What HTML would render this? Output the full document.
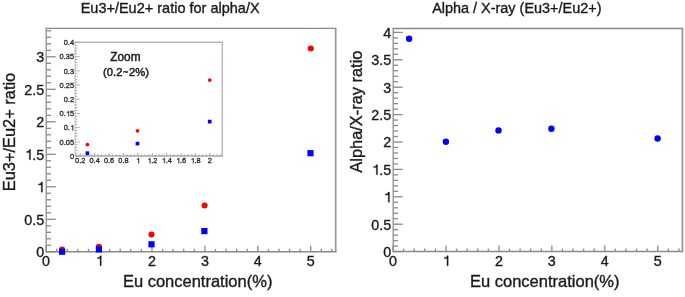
<!DOCTYPE html>
<html><head><meta charset="utf-8"><style>
html,body{margin:0;padding:0;background:#fff;}
svg{display:block;will-change:transform;}
text{font-family:"Liberation Sans", sans-serif;}
</style></head><body>
<svg width="685" height="297" viewBox="0 0 685 297">
<rect width="685" height="297" fill="#fff"/>
<line x1="46.2" y1="27.8" x2="46.2" y2="252.55" stroke="#858585" stroke-width="1.2"/>
<line x1="45.6" y1="28.4" x2="336.5" y2="28.4" stroke="#8a8a8a" stroke-width="1.3"/>
<line x1="335.7" y1="28.4" x2="335.7" y2="251.85" stroke="#959595" stroke-width="1.7"/>
<line x1="46.2" y1="251.85" x2="336.5" y2="251.85" stroke="#8a8a8a" stroke-width="1.5"/>
<line x1="46.2" y1="251.8" x2="55.7" y2="251.8" stroke="#8a8a8a" stroke-width="1.3"/>
<text x="44.2" y="257.2" font-size="14.3" text-anchor="end" fill="#1a1a1a" stroke="#1a1a1a" stroke-width="0.35" >0</text>
<line x1="46.2" y1="245.3" x2="51" y2="245.3" stroke="#8a8a8a" stroke-width="1.3"/>
<line x1="46.2" y1="238.8" x2="51" y2="238.8" stroke="#8a8a8a" stroke-width="1.3"/>
<line x1="46.2" y1="232.3" x2="51" y2="232.3" stroke="#8a8a8a" stroke-width="1.3"/>
<line x1="46.2" y1="225.8" x2="51" y2="225.8" stroke="#8a8a8a" stroke-width="1.3"/>
<line x1="46.2" y1="219.3" x2="55.7" y2="219.3" stroke="#8a8a8a" stroke-width="1.3"/>
<text x="44.2" y="224.7" font-size="14.3" text-anchor="end" fill="#1a1a1a" stroke="#1a1a1a" stroke-width="0.35" >0.5</text>
<line x1="46.2" y1="212.8" x2="51" y2="212.8" stroke="#8a8a8a" stroke-width="1.3"/>
<line x1="46.2" y1="206.3" x2="51" y2="206.3" stroke="#8a8a8a" stroke-width="1.3"/>
<line x1="46.2" y1="199.8" x2="51" y2="199.8" stroke="#8a8a8a" stroke-width="1.3"/>
<line x1="46.2" y1="193.3" x2="51" y2="193.3" stroke="#8a8a8a" stroke-width="1.3"/>
<line x1="46.2" y1="186.8" x2="55.7" y2="186.8" stroke="#8a8a8a" stroke-width="1.3"/>
<path transform="translate(36.25 192.2) scale(14.3)" d="M .438 0 L .348 0 L .348 -.505 L .155 -.505 L .155 -.572 C .285 -.58 .33 -.62 .35 -.709 L .438 -.709 Z" fill="#1a1a1a" stroke="#1a1a1a" stroke-width="0.02"/>
<line x1="46.2" y1="180.3" x2="51" y2="180.3" stroke="#8a8a8a" stroke-width="1.3"/>
<line x1="46.2" y1="173.8" x2="51" y2="173.8" stroke="#8a8a8a" stroke-width="1.3"/>
<line x1="46.2" y1="167.3" x2="51" y2="167.3" stroke="#8a8a8a" stroke-width="1.3"/>
<line x1="46.2" y1="160.8" x2="51" y2="160.8" stroke="#8a8a8a" stroke-width="1.3"/>
<line x1="46.2" y1="154.3" x2="55.7" y2="154.3" stroke="#8a8a8a" stroke-width="1.3"/>
<path transform="translate(24.32 159.7) scale(14.3)" d="M .438 0 L .348 0 L .348 -.505 L .155 -.505 L .155 -.572 C .285 -.58 .33 -.62 .35 -.709 L .438 -.709 Z" fill="#1a1a1a" stroke="#1a1a1a" stroke-width="0.02"/>
<text x="32.27" y="159.7" font-size="14.3" text-anchor="start" fill="#1a1a1a" stroke="#1a1a1a" stroke-width="0.35" >.5</text>
<line x1="46.2" y1="147.8" x2="51" y2="147.8" stroke="#8a8a8a" stroke-width="1.3"/>
<line x1="46.2" y1="141.3" x2="51" y2="141.3" stroke="#8a8a8a" stroke-width="1.3"/>
<line x1="46.2" y1="134.8" x2="51" y2="134.8" stroke="#8a8a8a" stroke-width="1.3"/>
<line x1="46.2" y1="128.3" x2="51" y2="128.3" stroke="#8a8a8a" stroke-width="1.3"/>
<line x1="46.2" y1="121.8" x2="55.7" y2="121.8" stroke="#8a8a8a" stroke-width="1.3"/>
<text x="44.2" y="127.2" font-size="14.3" text-anchor="end" fill="#1a1a1a" stroke="#1a1a1a" stroke-width="0.35" >2</text>
<line x1="46.2" y1="115.3" x2="51" y2="115.3" stroke="#8a8a8a" stroke-width="1.3"/>
<line x1="46.2" y1="108.8" x2="51" y2="108.8" stroke="#8a8a8a" stroke-width="1.3"/>
<line x1="46.2" y1="102.3" x2="51" y2="102.3" stroke="#8a8a8a" stroke-width="1.3"/>
<line x1="46.2" y1="95.8" x2="51" y2="95.8" stroke="#8a8a8a" stroke-width="1.3"/>
<line x1="46.2" y1="89.3" x2="55.7" y2="89.3" stroke="#8a8a8a" stroke-width="1.3"/>
<text x="44.2" y="94.7" font-size="14.3" text-anchor="end" fill="#1a1a1a" stroke="#1a1a1a" stroke-width="0.35" >2.5</text>
<line x1="46.2" y1="82.8" x2="51" y2="82.8" stroke="#8a8a8a" stroke-width="1.3"/>
<line x1="46.2" y1="76.3" x2="51" y2="76.3" stroke="#8a8a8a" stroke-width="1.3"/>
<line x1="46.2" y1="69.8" x2="51" y2="69.8" stroke="#8a8a8a" stroke-width="1.3"/>
<line x1="46.2" y1="63.3" x2="51" y2="63.3" stroke="#8a8a8a" stroke-width="1.3"/>
<line x1="46.2" y1="56.8" x2="55.7" y2="56.8" stroke="#8a8a8a" stroke-width="1.3"/>
<text x="44.2" y="62.2" font-size="14.3" text-anchor="end" fill="#1a1a1a" stroke="#1a1a1a" stroke-width="0.35" >3</text>
<line x1="46.2" y1="50.3" x2="51" y2="50.3" stroke="#8a8a8a" stroke-width="1.3"/>
<line x1="46.2" y1="43.8" x2="51" y2="43.8" stroke="#8a8a8a" stroke-width="1.3"/>
<line x1="46.2" y1="37.3" x2="51" y2="37.3" stroke="#8a8a8a" stroke-width="1.3"/>
<line x1="46.2" y1="30.8" x2="51" y2="30.8" stroke="#8a8a8a" stroke-width="1.3"/>
<line x1="46.1" y1="251.85" x2="46.1" y2="245.85" stroke="#8a8a8a" stroke-width="1.3"/>
<text x="46.1" y="265.8" font-size="14.3" text-anchor="middle" fill="#1a1a1a" stroke="#1a1a1a" stroke-width="0.35" >0</text>
<line x1="56.69" y1="251.85" x2="56.69" y2="248.85" stroke="#8a8a8a" stroke-width="1.3"/>
<line x1="67.27" y1="251.85" x2="67.27" y2="248.85" stroke="#8a8a8a" stroke-width="1.3"/>
<line x1="77.86" y1="251.85" x2="77.86" y2="248.85" stroke="#8a8a8a" stroke-width="1.3"/>
<line x1="88.44" y1="251.85" x2="88.44" y2="248.85" stroke="#8a8a8a" stroke-width="1.3"/>
<line x1="99.03" y1="251.85" x2="99.03" y2="245.85" stroke="#8a8a8a" stroke-width="1.3"/>
<path transform="translate(95.05 265.8) scale(14.3)" d="M .438 0 L .348 0 L .348 -.505 L .155 -.505 L .155 -.572 C .285 -.58 .33 -.62 .35 -.709 L .438 -.709 Z" fill="#1a1a1a" stroke="#1a1a1a" stroke-width="0.02"/>
<line x1="109.62" y1="251.85" x2="109.62" y2="248.85" stroke="#8a8a8a" stroke-width="1.3"/>
<line x1="120.2" y1="251.85" x2="120.2" y2="248.85" stroke="#8a8a8a" stroke-width="1.3"/>
<line x1="130.79" y1="251.85" x2="130.79" y2="248.85" stroke="#8a8a8a" stroke-width="1.3"/>
<line x1="141.37" y1="251.85" x2="141.37" y2="248.85" stroke="#8a8a8a" stroke-width="1.3"/>
<line x1="151.96" y1="251.85" x2="151.96" y2="245.85" stroke="#8a8a8a" stroke-width="1.3"/>
<text x="151.96" y="265.8" font-size="14.3" text-anchor="middle" fill="#1a1a1a" stroke="#1a1a1a" stroke-width="0.35" >2</text>
<line x1="162.55" y1="251.85" x2="162.55" y2="248.85" stroke="#8a8a8a" stroke-width="1.3"/>
<line x1="173.13" y1="251.85" x2="173.13" y2="248.85" stroke="#8a8a8a" stroke-width="1.3"/>
<line x1="183.72" y1="251.85" x2="183.72" y2="248.85" stroke="#8a8a8a" stroke-width="1.3"/>
<line x1="194.3" y1="251.85" x2="194.3" y2="248.85" stroke="#8a8a8a" stroke-width="1.3"/>
<line x1="204.89" y1="251.85" x2="204.89" y2="245.85" stroke="#8a8a8a" stroke-width="1.3"/>
<text x="204.89" y="265.8" font-size="14.3" text-anchor="middle" fill="#1a1a1a" stroke="#1a1a1a" stroke-width="0.35" >3</text>
<line x1="215.48" y1="251.85" x2="215.48" y2="248.85" stroke="#8a8a8a" stroke-width="1.3"/>
<line x1="226.06" y1="251.85" x2="226.06" y2="248.85" stroke="#8a8a8a" stroke-width="1.3"/>
<line x1="236.65" y1="251.85" x2="236.65" y2="248.85" stroke="#8a8a8a" stroke-width="1.3"/>
<line x1="247.23" y1="251.85" x2="247.23" y2="248.85" stroke="#8a8a8a" stroke-width="1.3"/>
<line x1="257.82" y1="251.85" x2="257.82" y2="245.85" stroke="#8a8a8a" stroke-width="1.3"/>
<text x="257.82" y="265.8" font-size="14.3" text-anchor="middle" fill="#1a1a1a" stroke="#1a1a1a" stroke-width="0.35" >4</text>
<line x1="268.41" y1="251.85" x2="268.41" y2="248.85" stroke="#8a8a8a" stroke-width="1.3"/>
<line x1="278.99" y1="251.85" x2="278.99" y2="248.85" stroke="#8a8a8a" stroke-width="1.3"/>
<line x1="289.58" y1="251.85" x2="289.58" y2="248.85" stroke="#8a8a8a" stroke-width="1.3"/>
<line x1="300.16" y1="251.85" x2="300.16" y2="248.85" stroke="#8a8a8a" stroke-width="1.3"/>
<line x1="310.75" y1="251.85" x2="310.75" y2="245.85" stroke="#8a8a8a" stroke-width="1.3"/>
<text x="310.75" y="265.8" font-size="14.3" text-anchor="middle" fill="#1a1a1a" stroke="#1a1a1a" stroke-width="0.35" >5</text>
<line x1="321.34" y1="251.85" x2="321.34" y2="248.85" stroke="#8a8a8a" stroke-width="1.3"/>
<line x1="331.92" y1="251.85" x2="331.92" y2="248.85" stroke="#8a8a8a" stroke-width="1.3"/>
<text x="272.4" y="286.8" font-size="16.5" text-anchor="end" fill="#1a1a1a" stroke="#1a1a1a" stroke-width="0.35" >Eu concentration(%)</text>
<text x="15.5" y="72.8" font-size="16.4" text-anchor="end" fill="#1a1a1a" stroke="#1a1a1a" stroke-width="0.35" transform="rotate(-90 15.5 72.8)">Eu3+/Eu2+ ratio</text>
<text x="170.15" y="13.2" font-size="14.5" text-anchor="middle" fill="#1a1a1a" stroke="#1a1a1a" stroke-width="0.35" >Eu3+/Eu2+ ratio for alpha/X</text>
<rect x="74.9" y="42.3" width="147.4" height="113.7" fill="#fff" stroke="none" stroke-width="0"/>
<line x1="74.2" y1="42.3" x2="223.05" y2="42.3" stroke="#b8b8b8" stroke-width="1.5"/>
<line x1="222.3" y1="42.3" x2="222.3" y2="156" stroke="#b8b8b8" stroke-width="1.5"/>
<line x1="75.1" y1="42.3" x2="75.1" y2="156" stroke="#d2d2d2" stroke-width="1.4"/>
<line x1="74.9" y1="156" x2="223.05" y2="156" stroke="#a8a8a8" stroke-width="1.4"/>
<line x1="74.9" y1="156" x2="79.9" y2="156" stroke="#a6a6a6" stroke-width="0.85"/>
<text x="74" y="158.8" font-size="7.4" text-anchor="end" fill="#2a2a2a" stroke="#2a2a2a" stroke-width="0.32" >0</text>
<line x1="74.9" y1="153.16" x2="77.4" y2="153.16" stroke="#a6a6a6" stroke-width="0.85"/>
<line x1="74.9" y1="150.32" x2="77.4" y2="150.32" stroke="#a6a6a6" stroke-width="0.85"/>
<line x1="74.9" y1="147.48" x2="77.4" y2="147.48" stroke="#a6a6a6" stroke-width="0.85"/>
<line x1="74.9" y1="144.64" x2="77.4" y2="144.64" stroke="#a6a6a6" stroke-width="0.85"/>
<line x1="74.9" y1="141.8" x2="79.9" y2="141.8" stroke="#a6a6a6" stroke-width="0.85"/>
<text x="74" y="144.6" font-size="7.4" text-anchor="end" fill="#2a2a2a" stroke="#2a2a2a" stroke-width="0.32" >0.05</text>
<line x1="74.9" y1="138.96" x2="77.4" y2="138.96" stroke="#a6a6a6" stroke-width="0.85"/>
<line x1="74.9" y1="136.12" x2="77.4" y2="136.12" stroke="#a6a6a6" stroke-width="0.85"/>
<line x1="74.9" y1="133.28" x2="77.4" y2="133.28" stroke="#a6a6a6" stroke-width="0.85"/>
<line x1="74.9" y1="130.44" x2="77.4" y2="130.44" stroke="#a6a6a6" stroke-width="0.85"/>
<line x1="74.9" y1="127.6" x2="79.9" y2="127.6" stroke="#a6a6a6" stroke-width="0.85"/>
<text x="63.71" y="130.4" font-size="7.4" text-anchor="start" fill="#2a2a2a" stroke="#2a2a2a" stroke-width="0.32" >0.</text>
<path transform="translate(69.89 130.4) scale(7.4)" d="M .438 0 L .348 0 L .348 -.505 L .155 -.505 L .155 -.572 C .285 -.58 .33 -.62 .35 -.709 L .438 -.709 Z" fill="#2a2a2a" stroke="#2a2a2a" stroke-width="0.04"/>
<line x1="74.9" y1="124.76" x2="77.4" y2="124.76" stroke="#a6a6a6" stroke-width="0.85"/>
<line x1="74.9" y1="121.92" x2="77.4" y2="121.92" stroke="#a6a6a6" stroke-width="0.85"/>
<line x1="74.9" y1="119.08" x2="77.4" y2="119.08" stroke="#a6a6a6" stroke-width="0.85"/>
<line x1="74.9" y1="116.24" x2="77.4" y2="116.24" stroke="#a6a6a6" stroke-width="0.85"/>
<line x1="74.9" y1="113.4" x2="79.9" y2="113.4" stroke="#a6a6a6" stroke-width="0.85"/>
<text x="59.6" y="116.2" font-size="7.4" text-anchor="start" fill="#2a2a2a" stroke="#2a2a2a" stroke-width="0.32" >0.</text>
<path transform="translate(65.77 116.2) scale(7.4)" d="M .438 0 L .348 0 L .348 -.505 L .155 -.505 L .155 -.572 C .285 -.58 .33 -.62 .35 -.709 L .438 -.709 Z" fill="#2a2a2a" stroke="#2a2a2a" stroke-width="0.04"/>
<text x="69.89" y="116.2" font-size="7.4" text-anchor="start" fill="#2a2a2a" stroke="#2a2a2a" stroke-width="0.32" >5</text>
<line x1="74.9" y1="110.56" x2="77.4" y2="110.56" stroke="#a6a6a6" stroke-width="0.85"/>
<line x1="74.9" y1="107.72" x2="77.4" y2="107.72" stroke="#a6a6a6" stroke-width="0.85"/>
<line x1="74.9" y1="104.88" x2="77.4" y2="104.88" stroke="#a6a6a6" stroke-width="0.85"/>
<line x1="74.9" y1="102.04" x2="77.4" y2="102.04" stroke="#a6a6a6" stroke-width="0.85"/>
<line x1="74.9" y1="99.2" x2="79.9" y2="99.2" stroke="#a6a6a6" stroke-width="0.85"/>
<text x="74" y="102" font-size="7.4" text-anchor="end" fill="#2a2a2a" stroke="#2a2a2a" stroke-width="0.32" >0.2</text>
<line x1="74.9" y1="96.36" x2="77.4" y2="96.36" stroke="#a6a6a6" stroke-width="0.85"/>
<line x1="74.9" y1="93.52" x2="77.4" y2="93.52" stroke="#a6a6a6" stroke-width="0.85"/>
<line x1="74.9" y1="90.68" x2="77.4" y2="90.68" stroke="#a6a6a6" stroke-width="0.85"/>
<line x1="74.9" y1="87.84" x2="77.4" y2="87.84" stroke="#a6a6a6" stroke-width="0.85"/>
<line x1="74.9" y1="85" x2="79.9" y2="85" stroke="#a6a6a6" stroke-width="0.85"/>
<text x="74" y="87.8" font-size="7.4" text-anchor="end" fill="#2a2a2a" stroke="#2a2a2a" stroke-width="0.32" >0.25</text>
<line x1="74.9" y1="82.16" x2="77.4" y2="82.16" stroke="#a6a6a6" stroke-width="0.85"/>
<line x1="74.9" y1="79.32" x2="77.4" y2="79.32" stroke="#a6a6a6" stroke-width="0.85"/>
<line x1="74.9" y1="76.48" x2="77.4" y2="76.48" stroke="#a6a6a6" stroke-width="0.85"/>
<line x1="74.9" y1="73.64" x2="77.4" y2="73.64" stroke="#a6a6a6" stroke-width="0.85"/>
<line x1="74.9" y1="70.8" x2="79.9" y2="70.8" stroke="#a6a6a6" stroke-width="0.85"/>
<text x="74" y="73.6" font-size="7.4" text-anchor="end" fill="#2a2a2a" stroke="#2a2a2a" stroke-width="0.32" >0.3</text>
<line x1="74.9" y1="67.96" x2="77.4" y2="67.96" stroke="#a6a6a6" stroke-width="0.85"/>
<line x1="74.9" y1="65.12" x2="77.4" y2="65.12" stroke="#a6a6a6" stroke-width="0.85"/>
<line x1="74.9" y1="62.28" x2="77.4" y2="62.28" stroke="#a6a6a6" stroke-width="0.85"/>
<line x1="74.9" y1="59.44" x2="77.4" y2="59.44" stroke="#a6a6a6" stroke-width="0.85"/>
<line x1="74.9" y1="56.6" x2="79.9" y2="56.6" stroke="#a6a6a6" stroke-width="0.85"/>
<text x="74" y="59.4" font-size="7.4" text-anchor="end" fill="#2a2a2a" stroke="#2a2a2a" stroke-width="0.32" >0.35</text>
<line x1="74.9" y1="53.76" x2="77.4" y2="53.76" stroke="#a6a6a6" stroke-width="0.85"/>
<line x1="74.9" y1="50.92" x2="77.4" y2="50.92" stroke="#a6a6a6" stroke-width="0.85"/>
<line x1="74.9" y1="48.08" x2="77.4" y2="48.08" stroke="#a6a6a6" stroke-width="0.85"/>
<line x1="74.9" y1="45.24" x2="77.4" y2="45.24" stroke="#a6a6a6" stroke-width="0.85"/>
<line x1="74.9" y1="42.4" x2="79.9" y2="42.4" stroke="#a6a6a6" stroke-width="0.85"/>
<text x="74" y="45.2" font-size="7.4" text-anchor="end" fill="#2a2a2a" stroke="#2a2a2a" stroke-width="0.32" >0.4</text>
<line x1="76.6" y1="156" x2="76.6" y2="154.4" stroke="#999" stroke-width="0.85"/>
<line x1="80.2" y1="156" x2="80.2" y2="153" stroke="#999" stroke-width="0.85"/>
<text x="80.2" y="163.2" font-size="7.4" text-anchor="middle" fill="#2a2a2a" stroke="#2a2a2a" stroke-width="0.32" >0.2</text>
<line x1="83.8" y1="156" x2="83.8" y2="154.4" stroke="#999" stroke-width="0.85"/>
<line x1="87.41" y1="156" x2="87.41" y2="154.4" stroke="#999" stroke-width="0.85"/>
<line x1="91.01" y1="156" x2="91.01" y2="154.4" stroke="#999" stroke-width="0.85"/>
<line x1="94.61" y1="156" x2="94.61" y2="153" stroke="#999" stroke-width="0.85"/>
<text x="94.61" y="163.2" font-size="7.4" text-anchor="middle" fill="#2a2a2a" stroke="#2a2a2a" stroke-width="0.32" >0.4</text>
<line x1="98.21" y1="156" x2="98.21" y2="154.4" stroke="#999" stroke-width="0.85"/>
<line x1="101.81" y1="156" x2="101.81" y2="154.4" stroke="#999" stroke-width="0.85"/>
<line x1="105.42" y1="156" x2="105.42" y2="154.4" stroke="#999" stroke-width="0.85"/>
<line x1="109.02" y1="156" x2="109.02" y2="153" stroke="#999" stroke-width="0.85"/>
<text x="109.02" y="163.2" font-size="7.4" text-anchor="middle" fill="#2a2a2a" stroke="#2a2a2a" stroke-width="0.32" >0.6</text>
<line x1="112.62" y1="156" x2="112.62" y2="154.4" stroke="#999" stroke-width="0.85"/>
<line x1="116.22" y1="156" x2="116.22" y2="154.4" stroke="#999" stroke-width="0.85"/>
<line x1="119.83" y1="156" x2="119.83" y2="154.4" stroke="#999" stroke-width="0.85"/>
<line x1="123.43" y1="156" x2="123.43" y2="153" stroke="#999" stroke-width="0.85"/>
<text x="123.43" y="163.2" font-size="7.4" text-anchor="middle" fill="#2a2a2a" stroke="#2a2a2a" stroke-width="0.32" >0.8</text>
<line x1="127.03" y1="156" x2="127.03" y2="154.4" stroke="#999" stroke-width="0.85"/>
<line x1="130.63" y1="156" x2="130.63" y2="154.4" stroke="#999" stroke-width="0.85"/>
<line x1="134.24" y1="156" x2="134.24" y2="154.4" stroke="#999" stroke-width="0.85"/>
<line x1="137.84" y1="156" x2="137.84" y2="153" stroke="#999" stroke-width="0.85"/>
<path transform="translate(135.78 163.2) scale(7.4)" d="M .438 0 L .348 0 L .348 -.505 L .155 -.505 L .155 -.572 C .285 -.58 .33 -.62 .35 -.709 L .438 -.709 Z" fill="#2a2a2a" stroke="#2a2a2a" stroke-width="0.04"/>
<line x1="141.44" y1="156" x2="141.44" y2="154.4" stroke="#999" stroke-width="0.85"/>
<line x1="145.05" y1="156" x2="145.05" y2="154.4" stroke="#999" stroke-width="0.85"/>
<line x1="148.65" y1="156" x2="148.65" y2="154.4" stroke="#999" stroke-width="0.85"/>
<line x1="152.25" y1="156" x2="152.25" y2="153" stroke="#999" stroke-width="0.85"/>
<path transform="translate(147.11 163.2) scale(7.4)" d="M .438 0 L .348 0 L .348 -.505 L .155 -.505 L .155 -.572 C .285 -.58 .33 -.62 .35 -.709 L .438 -.709 Z" fill="#2a2a2a" stroke="#2a2a2a" stroke-width="0.04"/>
<text x="151.22" y="163.2" font-size="7.4" text-anchor="start" fill="#2a2a2a" stroke="#2a2a2a" stroke-width="0.32" >.2</text>
<line x1="155.85" y1="156" x2="155.85" y2="154.4" stroke="#999" stroke-width="0.85"/>
<line x1="159.46" y1="156" x2="159.46" y2="154.4" stroke="#999" stroke-width="0.85"/>
<line x1="163.06" y1="156" x2="163.06" y2="154.4" stroke="#999" stroke-width="0.85"/>
<line x1="166.66" y1="156" x2="166.66" y2="153" stroke="#999" stroke-width="0.85"/>
<path transform="translate(161.52 163.2) scale(7.4)" d="M .438 0 L .348 0 L .348 -.505 L .155 -.505 L .155 -.572 C .285 -.58 .33 -.62 .35 -.709 L .438 -.709 Z" fill="#2a2a2a" stroke="#2a2a2a" stroke-width="0.04"/>
<text x="165.63" y="163.2" font-size="7.4" text-anchor="start" fill="#2a2a2a" stroke="#2a2a2a" stroke-width="0.32" >.4</text>
<line x1="170.26" y1="156" x2="170.26" y2="154.4" stroke="#999" stroke-width="0.85"/>
<line x1="173.87" y1="156" x2="173.87" y2="154.4" stroke="#999" stroke-width="0.85"/>
<line x1="177.47" y1="156" x2="177.47" y2="154.4" stroke="#999" stroke-width="0.85"/>
<line x1="181.07" y1="156" x2="181.07" y2="153" stroke="#999" stroke-width="0.85"/>
<path transform="translate(175.93 163.2) scale(7.4)" d="M .438 0 L .348 0 L .348 -.505 L .155 -.505 L .155 -.572 C .285 -.58 .33 -.62 .35 -.709 L .438 -.709 Z" fill="#2a2a2a" stroke="#2a2a2a" stroke-width="0.04"/>
<text x="180.04" y="163.2" font-size="7.4" text-anchor="start" fill="#2a2a2a" stroke="#2a2a2a" stroke-width="0.32" >.6</text>
<line x1="184.67" y1="156" x2="184.67" y2="154.4" stroke="#999" stroke-width="0.85"/>
<line x1="188.27" y1="156" x2="188.27" y2="154.4" stroke="#999" stroke-width="0.85"/>
<line x1="191.88" y1="156" x2="191.88" y2="154.4" stroke="#999" stroke-width="0.85"/>
<line x1="195.48" y1="156" x2="195.48" y2="153" stroke="#999" stroke-width="0.85"/>
<path transform="translate(190.34 163.2) scale(7.4)" d="M .438 0 L .348 0 L .348 -.505 L .155 -.505 L .155 -.572 C .285 -.58 .33 -.62 .35 -.709 L .438 -.709 Z" fill="#2a2a2a" stroke="#2a2a2a" stroke-width="0.04"/>
<text x="194.45" y="163.2" font-size="7.4" text-anchor="start" fill="#2a2a2a" stroke="#2a2a2a" stroke-width="0.32" >.8</text>
<line x1="199.08" y1="156" x2="199.08" y2="154.4" stroke="#999" stroke-width="0.85"/>
<line x1="202.69" y1="156" x2="202.69" y2="154.4" stroke="#999" stroke-width="0.85"/>
<line x1="206.29" y1="156" x2="206.29" y2="154.4" stroke="#999" stroke-width="0.85"/>
<line x1="209.89" y1="156" x2="209.89" y2="153" stroke="#999" stroke-width="0.85"/>
<text x="209.89" y="163.2" font-size="7.4" text-anchor="middle" fill="#2a2a2a" stroke="#2a2a2a" stroke-width="0.32" >2</text>
<line x1="213.49" y1="156" x2="213.49" y2="154.4" stroke="#999" stroke-width="0.85"/>
<line x1="217.1" y1="156" x2="217.1" y2="154.4" stroke="#999" stroke-width="0.85"/>
<line x1="220.7" y1="156" x2="220.7" y2="154.4" stroke="#999" stroke-width="0.85"/>
<text x="125.4" y="61.3" font-size="11.85" text-anchor="middle" fill="#1a1a1a" stroke="#1a1a1a" stroke-width="0.45" >Zoom</text>
<text x="126" y="76.3" font-size="11.2" text-anchor="middle" fill="#1a1a1a" stroke="#1a1a1a" stroke-width="0.45" >(0.2<tspan font-size="9" dx="0.65" dy="-1.2">~</tspan><tspan dx="0.65" dy="1.2">2%)</tspan></text>
<circle cx="87.4" cy="144.6" r="1.85" fill="#ff0000"/>
<circle cx="137.5" cy="130.8" r="1.85" fill="#ff0000"/>
<circle cx="209.8" cy="80.1" r="1.85" fill="#ff0000"/>
<rect x="85.55" y="151.35" width="3.7" height="3.7" fill="#0000ff"/>
<rect x="135.65" y="141.75" width="3.7" height="3.7" fill="#0000ff"/>
<rect x="207.85" y="119.75" width="3.7" height="3.7" fill="#0000ff"/>
<circle cx="62.1" cy="249.5" r="3.05" fill="#ff0000"/>
<circle cx="98.9" cy="246.7" r="3.05" fill="#ff0000"/>
<circle cx="151.5" cy="234.5" r="3.05" fill="#ff0000"/>
<circle cx="204.6" cy="205.5" r="3.05" fill="#ff0000"/>
<circle cx="310.8" cy="48.5" r="3.05" fill="#ff0000"/>
<rect x="59" y="248.6" width="6.2" height="6.2" fill="#0000ff"/>
<rect x="95.8" y="246.3" width="6.2" height="6.2" fill="#0000ff"/>
<rect x="148.4" y="241.2" width="6.2" height="6.2" fill="#0000ff"/>
<rect x="201.3" y="228" width="6.2" height="6.2" fill="#0000ff"/>
<rect x="307.4" y="150.1" width="6.2" height="6.2" fill="#0000ff"/>
<line x1="393.2" y1="27.9" x2="393.2" y2="252.3" stroke="#858585" stroke-width="1.2"/>
<line x1="392.6" y1="28.5" x2="683.2" y2="28.5" stroke="#8a8a8a" stroke-width="1.3"/>
<line x1="682.4" y1="28.5" x2="682.4" y2="251.6" stroke="#959595" stroke-width="1.7"/>
<line x1="393.2" y1="251.6" x2="683.2" y2="251.6" stroke="#8a8a8a" stroke-width="1.5"/>
<line x1="393.2" y1="251.6" x2="402.7" y2="251.6" stroke="#8a8a8a" stroke-width="1.3"/>
<text x="391.2" y="257" font-size="14.3" text-anchor="end" fill="#1a1a1a" stroke="#1a1a1a" stroke-width="0.35" >0</text>
<line x1="393.2" y1="246.12" x2="398" y2="246.12" stroke="#8a8a8a" stroke-width="1.3"/>
<line x1="393.2" y1="240.64" x2="398" y2="240.64" stroke="#8a8a8a" stroke-width="1.3"/>
<line x1="393.2" y1="235.16" x2="398" y2="235.16" stroke="#8a8a8a" stroke-width="1.3"/>
<line x1="393.2" y1="229.68" x2="398" y2="229.68" stroke="#8a8a8a" stroke-width="1.3"/>
<line x1="393.2" y1="224.2" x2="402.7" y2="224.2" stroke="#8a8a8a" stroke-width="1.3"/>
<text x="391.2" y="229.6" font-size="14.3" text-anchor="end" fill="#1a1a1a" stroke="#1a1a1a" stroke-width="0.35" >0.5</text>
<line x1="393.2" y1="218.72" x2="398" y2="218.72" stroke="#8a8a8a" stroke-width="1.3"/>
<line x1="393.2" y1="213.24" x2="398" y2="213.24" stroke="#8a8a8a" stroke-width="1.3"/>
<line x1="393.2" y1="207.76" x2="398" y2="207.76" stroke="#8a8a8a" stroke-width="1.3"/>
<line x1="393.2" y1="202.28" x2="398" y2="202.28" stroke="#8a8a8a" stroke-width="1.3"/>
<line x1="393.2" y1="196.8" x2="402.7" y2="196.8" stroke="#8a8a8a" stroke-width="1.3"/>
<path transform="translate(383.25 202.2) scale(14.3)" d="M .438 0 L .348 0 L .348 -.505 L .155 -.505 L .155 -.572 C .285 -.58 .33 -.62 .35 -.709 L .438 -.709 Z" fill="#1a1a1a" stroke="#1a1a1a" stroke-width="0.02"/>
<line x1="393.2" y1="191.32" x2="398" y2="191.32" stroke="#8a8a8a" stroke-width="1.3"/>
<line x1="393.2" y1="185.84" x2="398" y2="185.84" stroke="#8a8a8a" stroke-width="1.3"/>
<line x1="393.2" y1="180.36" x2="398" y2="180.36" stroke="#8a8a8a" stroke-width="1.3"/>
<line x1="393.2" y1="174.88" x2="398" y2="174.88" stroke="#8a8a8a" stroke-width="1.3"/>
<line x1="393.2" y1="169.4" x2="402.7" y2="169.4" stroke="#8a8a8a" stroke-width="1.3"/>
<path transform="translate(371.32 174.8) scale(14.3)" d="M .438 0 L .348 0 L .348 -.505 L .155 -.505 L .155 -.572 C .285 -.58 .33 -.62 .35 -.709 L .438 -.709 Z" fill="#1a1a1a" stroke="#1a1a1a" stroke-width="0.02"/>
<text x="379.27" y="174.8" font-size="14.3" text-anchor="start" fill="#1a1a1a" stroke="#1a1a1a" stroke-width="0.35" >.5</text>
<line x1="393.2" y1="163.92" x2="398" y2="163.92" stroke="#8a8a8a" stroke-width="1.3"/>
<line x1="393.2" y1="158.44" x2="398" y2="158.44" stroke="#8a8a8a" stroke-width="1.3"/>
<line x1="393.2" y1="152.96" x2="398" y2="152.96" stroke="#8a8a8a" stroke-width="1.3"/>
<line x1="393.2" y1="147.48" x2="398" y2="147.48" stroke="#8a8a8a" stroke-width="1.3"/>
<line x1="393.2" y1="142" x2="402.7" y2="142" stroke="#8a8a8a" stroke-width="1.3"/>
<text x="391.2" y="147.4" font-size="14.3" text-anchor="end" fill="#1a1a1a" stroke="#1a1a1a" stroke-width="0.35" >2</text>
<line x1="393.2" y1="136.52" x2="398" y2="136.52" stroke="#8a8a8a" stroke-width="1.3"/>
<line x1="393.2" y1="131.04" x2="398" y2="131.04" stroke="#8a8a8a" stroke-width="1.3"/>
<line x1="393.2" y1="125.56" x2="398" y2="125.56" stroke="#8a8a8a" stroke-width="1.3"/>
<line x1="393.2" y1="120.08" x2="398" y2="120.08" stroke="#8a8a8a" stroke-width="1.3"/>
<line x1="393.2" y1="114.6" x2="402.7" y2="114.6" stroke="#8a8a8a" stroke-width="1.3"/>
<text x="391.2" y="120" font-size="14.3" text-anchor="end" fill="#1a1a1a" stroke="#1a1a1a" stroke-width="0.35" >2.5</text>
<line x1="393.2" y1="109.12" x2="398" y2="109.12" stroke="#8a8a8a" stroke-width="1.3"/>
<line x1="393.2" y1="103.64" x2="398" y2="103.64" stroke="#8a8a8a" stroke-width="1.3"/>
<line x1="393.2" y1="98.16" x2="398" y2="98.16" stroke="#8a8a8a" stroke-width="1.3"/>
<line x1="393.2" y1="92.68" x2="398" y2="92.68" stroke="#8a8a8a" stroke-width="1.3"/>
<line x1="393.2" y1="87.2" x2="402.7" y2="87.2" stroke="#8a8a8a" stroke-width="1.3"/>
<text x="391.2" y="92.6" font-size="14.3" text-anchor="end" fill="#1a1a1a" stroke="#1a1a1a" stroke-width="0.35" >3</text>
<line x1="393.2" y1="81.72" x2="398" y2="81.72" stroke="#8a8a8a" stroke-width="1.3"/>
<line x1="393.2" y1="76.24" x2="398" y2="76.24" stroke="#8a8a8a" stroke-width="1.3"/>
<line x1="393.2" y1="70.76" x2="398" y2="70.76" stroke="#8a8a8a" stroke-width="1.3"/>
<line x1="393.2" y1="65.28" x2="398" y2="65.28" stroke="#8a8a8a" stroke-width="1.3"/>
<line x1="393.2" y1="59.8" x2="402.7" y2="59.8" stroke="#8a8a8a" stroke-width="1.3"/>
<text x="391.2" y="65.2" font-size="14.3" text-anchor="end" fill="#1a1a1a" stroke="#1a1a1a" stroke-width="0.35" >3.5</text>
<line x1="393.2" y1="54.32" x2="398" y2="54.32" stroke="#8a8a8a" stroke-width="1.3"/>
<line x1="393.2" y1="48.84" x2="398" y2="48.84" stroke="#8a8a8a" stroke-width="1.3"/>
<line x1="393.2" y1="43.36" x2="398" y2="43.36" stroke="#8a8a8a" stroke-width="1.3"/>
<line x1="393.2" y1="37.88" x2="398" y2="37.88" stroke="#8a8a8a" stroke-width="1.3"/>
<line x1="393.2" y1="32.4" x2="402.7" y2="32.4" stroke="#8a8a8a" stroke-width="1.3"/>
<text x="391.2" y="37.8" font-size="14.3" text-anchor="end" fill="#1a1a1a" stroke="#1a1a1a" stroke-width="0.35" >4</text>
<line x1="393" y1="251.6" x2="393" y2="245.6" stroke="#8a8a8a" stroke-width="1.3"/>
<text x="393" y="265.8" font-size="14.3" text-anchor="middle" fill="#1a1a1a" stroke="#1a1a1a" stroke-width="0.35" >0</text>
<line x1="403.59" y1="251.6" x2="403.59" y2="248.6" stroke="#8a8a8a" stroke-width="1.3"/>
<line x1="414.18" y1="251.6" x2="414.18" y2="248.6" stroke="#8a8a8a" stroke-width="1.3"/>
<line x1="424.77" y1="251.6" x2="424.77" y2="248.6" stroke="#8a8a8a" stroke-width="1.3"/>
<line x1="435.36" y1="251.6" x2="435.36" y2="248.6" stroke="#8a8a8a" stroke-width="1.3"/>
<line x1="445.95" y1="251.6" x2="445.95" y2="245.6" stroke="#8a8a8a" stroke-width="1.3"/>
<path transform="translate(441.97 265.8) scale(14.3)" d="M .438 0 L .348 0 L .348 -.505 L .155 -.505 L .155 -.572 C .285 -.58 .33 -.62 .35 -.709 L .438 -.709 Z" fill="#1a1a1a" stroke="#1a1a1a" stroke-width="0.02"/>
<line x1="456.54" y1="251.6" x2="456.54" y2="248.6" stroke="#8a8a8a" stroke-width="1.3"/>
<line x1="467.13" y1="251.6" x2="467.13" y2="248.6" stroke="#8a8a8a" stroke-width="1.3"/>
<line x1="477.72" y1="251.6" x2="477.72" y2="248.6" stroke="#8a8a8a" stroke-width="1.3"/>
<line x1="488.31" y1="251.6" x2="488.31" y2="248.6" stroke="#8a8a8a" stroke-width="1.3"/>
<line x1="498.9" y1="251.6" x2="498.9" y2="245.6" stroke="#8a8a8a" stroke-width="1.3"/>
<text x="498.9" y="265.8" font-size="14.3" text-anchor="middle" fill="#1a1a1a" stroke="#1a1a1a" stroke-width="0.35" >2</text>
<line x1="509.49" y1="251.6" x2="509.49" y2="248.6" stroke="#8a8a8a" stroke-width="1.3"/>
<line x1="520.08" y1="251.6" x2="520.08" y2="248.6" stroke="#8a8a8a" stroke-width="1.3"/>
<line x1="530.67" y1="251.6" x2="530.67" y2="248.6" stroke="#8a8a8a" stroke-width="1.3"/>
<line x1="541.26" y1="251.6" x2="541.26" y2="248.6" stroke="#8a8a8a" stroke-width="1.3"/>
<line x1="551.85" y1="251.6" x2="551.85" y2="245.6" stroke="#8a8a8a" stroke-width="1.3"/>
<text x="551.85" y="265.8" font-size="14.3" text-anchor="middle" fill="#1a1a1a" stroke="#1a1a1a" stroke-width="0.35" >3</text>
<line x1="562.44" y1="251.6" x2="562.44" y2="248.6" stroke="#8a8a8a" stroke-width="1.3"/>
<line x1="573.03" y1="251.6" x2="573.03" y2="248.6" stroke="#8a8a8a" stroke-width="1.3"/>
<line x1="583.62" y1="251.6" x2="583.62" y2="248.6" stroke="#8a8a8a" stroke-width="1.3"/>
<line x1="594.21" y1="251.6" x2="594.21" y2="248.6" stroke="#8a8a8a" stroke-width="1.3"/>
<line x1="604.8" y1="251.6" x2="604.8" y2="245.6" stroke="#8a8a8a" stroke-width="1.3"/>
<text x="604.8" y="265.8" font-size="14.3" text-anchor="middle" fill="#1a1a1a" stroke="#1a1a1a" stroke-width="0.35" >4</text>
<line x1="615.39" y1="251.6" x2="615.39" y2="248.6" stroke="#8a8a8a" stroke-width="1.3"/>
<line x1="625.98" y1="251.6" x2="625.98" y2="248.6" stroke="#8a8a8a" stroke-width="1.3"/>
<line x1="636.57" y1="251.6" x2="636.57" y2="248.6" stroke="#8a8a8a" stroke-width="1.3"/>
<line x1="647.16" y1="251.6" x2="647.16" y2="248.6" stroke="#8a8a8a" stroke-width="1.3"/>
<line x1="657.75" y1="251.6" x2="657.75" y2="245.6" stroke="#8a8a8a" stroke-width="1.3"/>
<text x="657.75" y="265.8" font-size="14.3" text-anchor="middle" fill="#1a1a1a" stroke="#1a1a1a" stroke-width="0.35" >5</text>
<line x1="668.34" y1="251.6" x2="668.34" y2="248.6" stroke="#8a8a8a" stroke-width="1.3"/>
<line x1="678.93" y1="251.6" x2="678.93" y2="248.6" stroke="#8a8a8a" stroke-width="1.3"/>
<text x="619.5" y="286.8" font-size="16.5" text-anchor="end" fill="#1a1a1a" stroke="#1a1a1a" stroke-width="0.35" >Eu concentration(%)</text>
<text x="362.5" y="50.6" font-size="16.4" text-anchor="end" fill="#1a1a1a" stroke="#1a1a1a" stroke-width="0.35" transform="rotate(-90 362.5 50.6)">Alpha/X-ray ratio</text>
<text x="516.8" y="13.2" font-size="14.45" text-anchor="middle" fill="#1a1a1a" stroke="#1a1a1a" stroke-width="0.35" >Alpha / X-ray (Eu3+/Eu2+)</text>
<circle cx="409.1" cy="38.7" r="3.2" fill="#0000ff"/>
<circle cx="445.9" cy="141.7" r="3.2" fill="#0000ff"/>
<circle cx="498.5" cy="130.4" r="3.2" fill="#0000ff"/>
<circle cx="551.4" cy="128.8" r="3.2" fill="#0000ff"/>
<circle cx="657.6" cy="138.5" r="3.2" fill="#0000ff"/>
</svg>
</body></html>
